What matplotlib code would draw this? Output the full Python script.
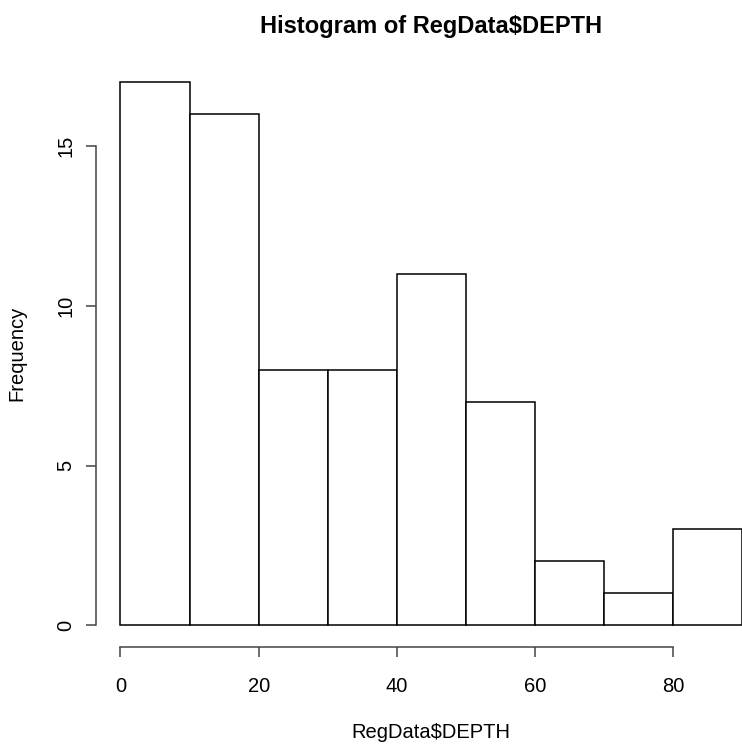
import numpy as np
import matplotlib
matplotlib.use('Agg')
import matplotlib.pyplot as plt

plt.rcParams['font.family'] = ['Liberation Sans', 'DejaVu Sans']

# R hist() counts of RegData$DEPTH, breaks every 10
breaks = [0, 10, 20, 30, 40, 50, 60, 70, 80, 90]
counts = [17, 16, 8, 8, 11, 7, 2, 1, 3]
xticks = [0, 20, 40, 60, 80]
yticks = [0, 5, 10, 15]

fig = plt.figure(figsize=(7.42, 7.46), dpi=100)
ax = fig.add_axes([0.1288, 0.1327, 0.9051, 0.7863])

ax.bar(breaks[:-1], counts, width=np.diff(breaks), align='edge',
       color='white', edgecolor='black', linewidth=1.1)

# R pads the range by 4 percent
ax.set_xlim(-3.6, 93.6)
ax.set_ylim(-0.68, 17.68)

for s in ['top', 'right']:
    ax.spines[s].set_visible(False)
ax.spines['bottom'].set_bounds(0, 80)
ax.spines['left'].set_bounds(0, 15)
for s in ['bottom', 'left']:
    ax.spines[s].set_color('#444444')
    ax.spines[s].set_linewidth(1.1)

ax.set_xticks(xticks)
ax.set_yticks(yticks)
ax.tick_params(axis='both', direction='out', length=7.5, width=1.1,
               color='#444444', labelsize=14.5)
ax.tick_params(axis='x', pad=14)
ax.tick_params(axis='y', pad=7)
for lab in ax.get_yticklabels():
    lab.set_rotation(90)
    lab.set_va('center')

ax.set_xlabel('RegData$DEPTH', fontsize=14.5)
ax.xaxis.set_label_coords(0.5, -0.1466)
ax.xaxis.label.set_va('center')
ax.set_ylabel('Frequency', fontsize=14.5)
ax.yaxis.set_label_coords(-0.117, 0.5)
ax.yaxis.label.set_va('center')

ax.text(0.5, 1.058, 'Histogram of RegData$DEPTH', transform=ax.transAxes,
        ha='center', va='center', fontsize=17, fontweight='bold')

fig.savefig('out.png', dpi=100)
